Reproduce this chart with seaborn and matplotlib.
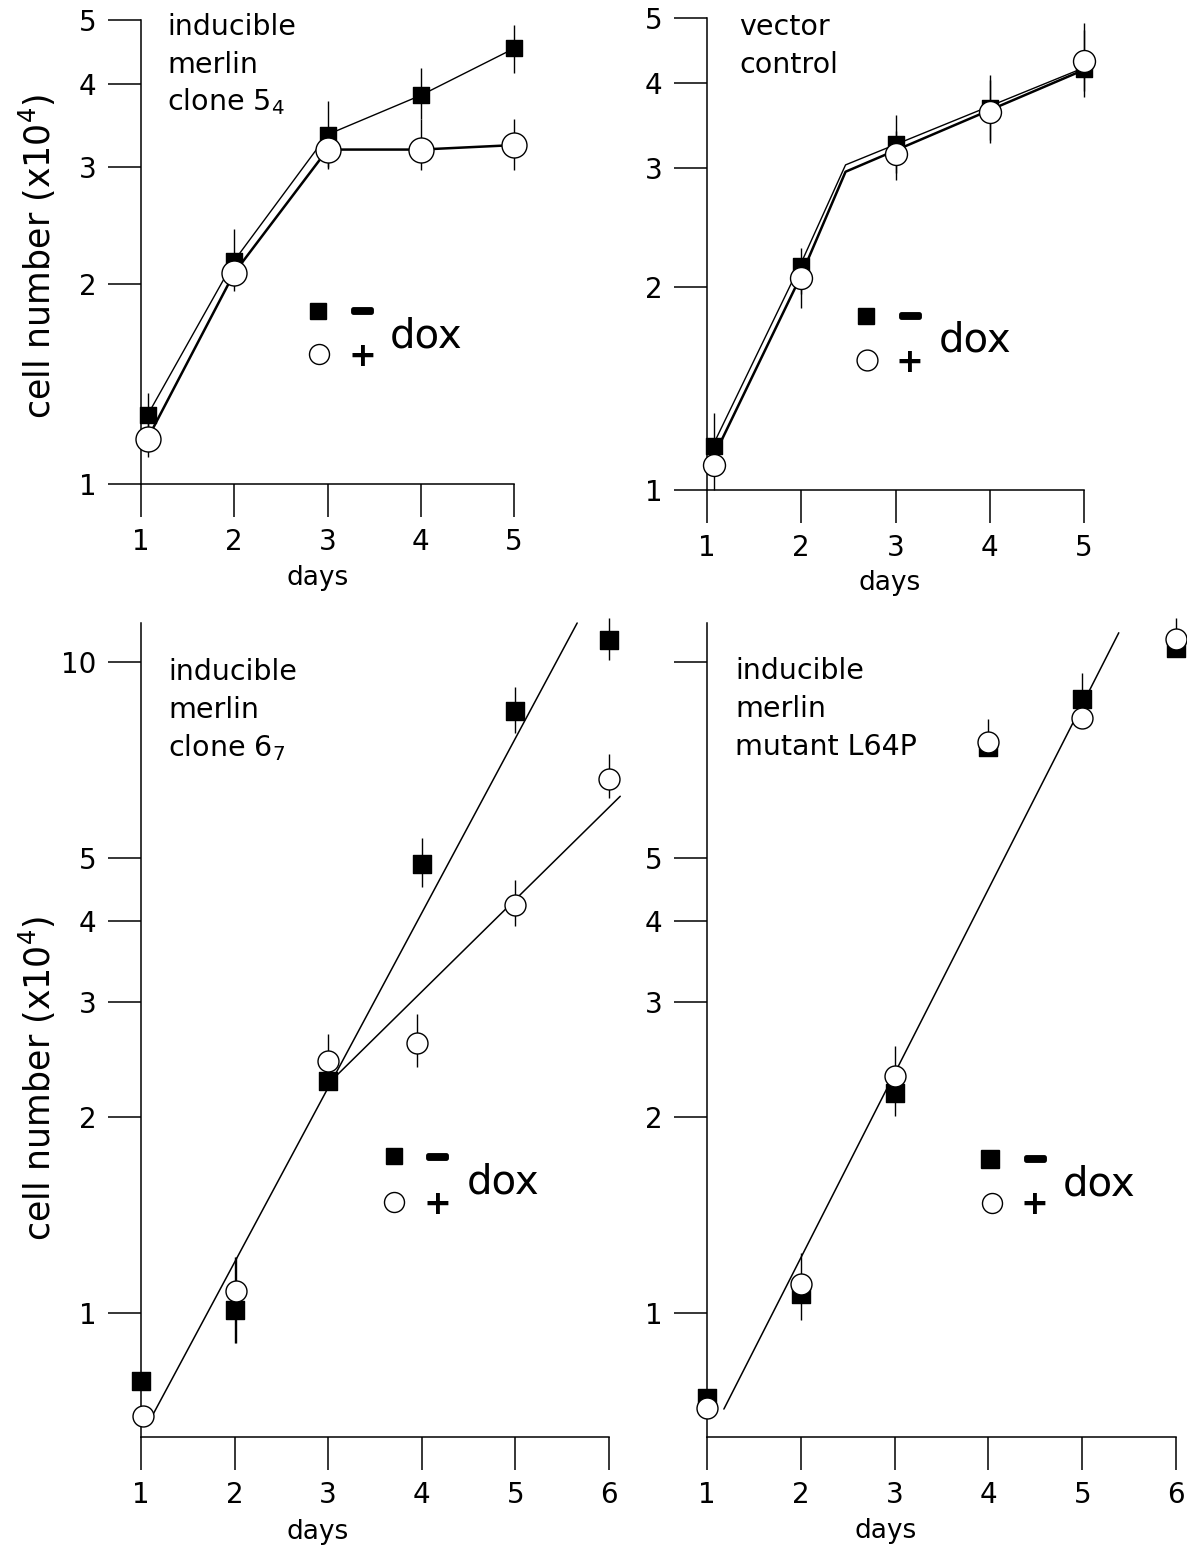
import matplotlib
matplotlib.use("Agg")
import pandas as pd
import matplotlib.pyplot as plt
import matplotlib.patheffects as pe
from matplotlib.ticker import NullLocator
import seaborn as sns

W, H = 1187, 1548

# ---------------- panel A: inducible merlin clone 5_4 ----------------
a_days = [1.07, 2, 3, 4, 5]
a_minus = [1.27, 2.17, 3.36, 3.85, 4.53]
a_minus_lo = [1.12, 1.99, 3.00, 3.55, 4.16]
a_minus_hi = [1.37, 2.42, 3.77, 4.23, 4.91]
a_plus = [1.17, 2.08, 3.19, 3.19, 3.24]
a_plus_lo = [1.10, 1.95, 2.98, 2.97, 2.97]
a_plus_hi = [1.30, 2.20, 3.45, 3.55, 3.55]

# ---------------- panel B: vector control ----------------
b_days = [1.07, 2, 3, 4, 5]
b_minus = [1.16, 2.15, 3.25, 3.68, 4.20]
b_minus_lo = [1.08, 1.95, 2.88, 3.26, 3.82]
b_minus_hi = [1.30, 2.28, 3.59, 4.12, 4.92]
b_plus = [1.09, 2.06, 3.14, 3.63, 4.32]
b_plus_lo = [1.00, 1.86, 2.95, 3.30, 3.90]
b_plus_hi = [1.18, 2.20, 3.40, 4.05, 4.80]
b_trend_days = [1.07, 2.0, 2.47, 5.0]
b_trend_minus = [1.17, 2.17, 3.03, 4.22]
b_trend_plus = [1.12, 2.08, 2.96, 4.19]

# ---------------- panel C: inducible merlin clone 6_7 ----------------
c_days_minus = [1, 2, 3, 4, 5, 6]
c_minus = [0.786, 1.01, 2.27, 4.90, 8.40, 10.8]
c_minus_lo = [0.786, 0.90, 2.27, 4.52, 7.78, 10.06]
c_minus_hi = [0.786, 1.22, 2.27, 5.37, 9.15, 11.7]
c_days_plus = [1.02, 2.02, 3.0, 3.95, 5.0, 6.0]
c_plus = [0.695, 1.08, 2.44, 2.60, 4.24, 6.60]
c_plus_lo = [0.695, 0.90, 2.30, 2.39, 3.93, 6.18]
c_plus_hi = [0.695, 1.22, 2.68, 2.88, 4.63, 7.23]
c_fit_minus_days = [1.12, 5.66]
c_fit_minus = [0.695, 11.48]
c_fit_plus_days = [3.0, 6.12]
c_fit_plus = [2.25, 6.22]

# ---------------- panel D: inducible merlin mutant L64P ----------------
d_days = [1, 2, 3, 4, 5, 6]
d_minus = [0.74, 1.07, 2.18, 7.40, 8.77, 10.5]
d_minus_lo = [0.74, 0.977, 2.01, 7.40, 8.77, 10.5]
d_minus_hi = [0.74, 1.236, 2.57, 8.17, 9.62, 11.7]
d_plus = [0.715, 1.11, 2.31, 7.53, 8.19, 10.85]
d_fit_days = [1.18, 5.39]
d_fit = [0.712, 11.09]

day_ticks_5 = [1, 2, 3, 4, 5]
day_ticks_6 = [1, 2, 3, 4, 5, 6]
top_yticks = [1, 2, 3, 4, 5]
top_ylabels = ["1", "2", "3", "4", "5"]
bottom_yticks = [1, 2, 3, 4, 5, 10]
bottom_ylabels_c = ["1", "2", "3", "4", "5", "10"]
bottom_ylabels_d = ["1", "2", "3", "4", "5", ""]

sns.set_theme(style="ticks")
plt.rcParams.update({
    "font.family": ["DejaVu Sans"],
    "mathtext.fontset": "dejavusans",
    "text.color": "black",
    "axes.labelcolor": "black",
    "xtick.color": "black",
    "ytick.color": "black",
    "axes.edgecolor": "black",
})

fig = plt.figure(figsize=(W / 100, H / 100), dpi=100)
fig.patch.set_facecolor("white")


def add_panel(left, top, right, bottom):
    ax = fig.add_axes([left / W, 1 - bottom / H, (right - left) / W, (bottom - top) / H])
    ax._px_box = (left, top, right, bottom)
    return ax


def style(ax, xlim, ylim, xticks, yticks, ylabels):
    ax.set_yscale("log")
    ax.set_xlim(xlim)
    ax.set_ylim(ylim)
    ax.set_xticks(xticks, [str(t) for t in xticks])
    ax.set_yticks(yticks, ylabels)
    ax.yaxis.set_minor_locator(NullLocator())
    ax.xaxis.set_minor_locator(NullLocator())
    sns.despine(ax=ax)
    for s in ("left", "bottom"):
        ax.spines[s].set_linewidth(1.1)
        ax.spines[s].set_color("black")
    ax.tick_params(axis="both", which="major", direction="out", length=24,
                   width=1.1, labelsize=20)
    ax.tick_params(axis="x", pad=8)
    ax.tick_params(axis="y", pad=8)
    ax.patch.set_visible(False)


def axes_frac(ax, x, y):
    left, top, right, bottom = ax._px_box
    return (x - left) / (right - left), (bottom - y) / (bottom - top)


def draw_points(ax, days, vals, lo, hi, marker, size, fill):
    df = pd.DataFrame({"day": days, "cells": vals, "lo": lo, "hi": hi})
    ax.vlines(df["day"], df["lo"], df["hi"], color="black", lw=1.0,
              zorder=2, clip_on=False)
    sns.scatterplot(data=df, x="day", y="cells", marker=marker, s=size,
                    color=fill, edgecolor="black", linewidth=1.0, zorder=3,
                    clip_on=False, legend=False, ax=ax)


def draw_line(ax, days, vals, lw):
    sns.lineplot(x=days, y=vals, color="black", lw=lw, sort=False,
                 estimator=None, zorder=1, clip_on=False, ax=ax)


def fig_text(x, y, s, **kw):
    fig.text(x / W, 1 - y / H, s, **kw)


def dox_key(sq, ci, minus, plus, dox, sq_ms, ci_ms):
    ax0 = fig.axes[0]
    for (x, y), m, ms, fc in ((sq, "s", sq_ms, "black"), (ci, "o", ci_ms, "white")):
        ax0.plot([x / W], [1 - y / H], marker=m, ms=ms, mfc=fc, mec="black",
                 mew=1.0, ls="none", transform=fig.transFigure, clip_on=False)
    fig_text(*minus, "\u2212", ha="center", va="center", fontsize=20,
             fontweight="bold",
             path_effects=[pe.withStroke(linewidth=3.5, foreground="black")])
    fig_text(*plus, "+", ha="center", va="center", fontsize=24, fontweight="bold")
    fig_text(*dox, "dox", ha="left", va="baseline", fontsize=29)


def panel_note(left, baselines, lines):
    for y, s in zip(baselines, lines):
        fig_text(left, y, s, ha="left", va="baseline", fontsize=20.5)


ax_a = add_panel(141, 20, 514, 484)
ax_b = add_panel(707, 18, 1084, 490)
ax_c = add_panel(141, 623, 609, 1437)
ax_d = add_panel(707, 623, 1176, 1437)

# ---- A ----
draw_line(ax_a, a_days, a_minus, 1.0)
draw_line(ax_a, a_days, a_plus, 1.8)
draw_points(ax_a, a_days, a_minus, a_minus_lo, a_minus_hi, "s", 149, "black")
draw_points(ax_a, a_days, a_plus, a_plus_lo, a_plus_hi, "o", 324, "white")
style(ax_a, (1, 5), (1, 5), day_ticks_5, top_yticks, top_ylabels)

# ---- B ----
draw_line(ax_b, b_trend_days, b_trend_minus, 1.0)
draw_line(ax_b, b_trend_days, b_trend_plus, 1.8)
draw_points(ax_b, b_days, b_minus, b_minus_lo, b_minus_hi, "s", 149, "black")
draw_points(ax_b, b_days, b_plus, b_plus_lo, b_plus_hi, "o", 250, "white")
style(ax_b, (1, 5), (1, 5), day_ticks_5, top_yticks, top_ylabels)

# ---- C ----
draw_line(ax_c, c_fit_minus_days, c_fit_minus, 1.1)
draw_line(ax_c, c_fit_plus_days, c_fit_plus, 1.1)
draw_points(ax_c, c_days_minus, c_minus, c_minus_lo, c_minus_hi, "s", 169, "black")
draw_points(ax_c, c_days_plus, c_plus, c_plus_lo, c_plus_hi, "o", 228, "white")
style(ax_c, (1, 6), (0.645, 11.48), day_ticks_6, bottom_yticks, bottom_ylabels_c)

# ---- D ----
draw_line(ax_d, d_fit_days, d_fit, 1.1)
draw_points(ax_d, d_days, d_minus, d_minus_lo, d_minus_hi, "s", 169, "black")
draw_points(ax_d, d_days, d_plus, d_plus, d_plus, "o", 228, "white")
style(ax_d, (1, 6), (0.645, 11.48), day_ticks_6, bottom_yticks, bottom_ylabels_d)

# axis titles
for ax, (dx, dy) in ((ax_a, (318, 578)), (ax_b, (890, 583)),
                     (ax_c, (318, 1532)), (ax_d, (886, 1531))):
    ax.set_xlabel("days", fontsize=19, va="center")
    ax.xaxis.set_label_coords(*axes_frac(ax, dx, dy))
    ax.set_ylabel("")

for ax, (lx, ly) in ((ax_a, (37, 256)), (ax_c, (37, 1078))):
    ax.set_ylabel("cell number (x10$^4$)", fontsize=25, va="center")
    ax.yaxis.set_label_coords(*axes_frac(ax, lx, ly))

# panel descriptions
panel_note(167, [35, 73, 110], ["inducible", "merlin", "clone 5$_4$"])
panel_note(739, [35, 73], ["vector", "control"])
panel_note(168, [680, 718, 756], ["inducible", "merlin", "clone 6$_7$"])
panel_note(735, [679, 717, 755], ["inducible", "merlin", "mutant L64P"])

# doxycycline keys
dox_key((318, 311), (319, 354), (362, 311), (362, 356), (390, 348), 12.2, 14.4)
dox_key((866, 316), (867, 360), (910, 316), (909, 362), (939, 352), 12.2, 15.0)
dox_key((394, 1156), (394, 1202), (437, 1157), (437, 1205), (467, 1194), 11.5, 14.4)
dox_key((990, 1159), (992, 1203), (1035, 1159), (1034, 1205), (1063, 1196), 12.5, 14.4)

fig.savefig("out.png", dpi=100, facecolor="white")
